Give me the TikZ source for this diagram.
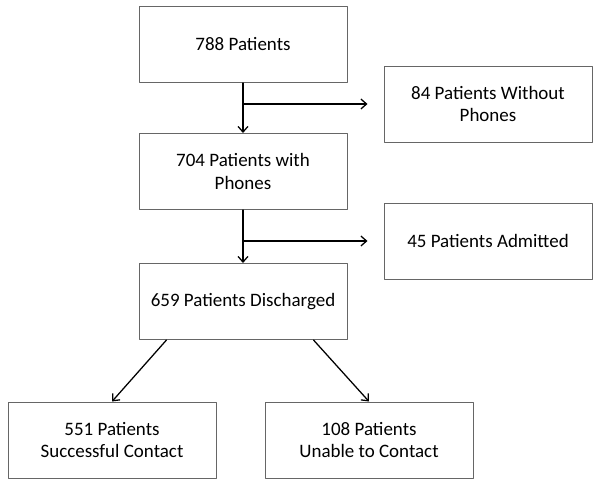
\documentclass[tikz,border=0pt]{standalone}
\usepackage{fontspec}
\setmainfont{Carlito}
\usepackage{tikz}
\usetikzlibrary{arrows.meta, calc, positioning}
\definecolor{boxgray}{rgb}{0.4, 0.4, 0.4}

\begin{document}
\begin{tikzpicture}[line cap=round, line join=round, >={Straight Barb[length=4pt,width=7pt]},
	flowbox/.style={draw=boxgray, line width=0.7pt, minimum width=5.2cm, minimum height=1.9cm,
		align=center, inner sep=2pt, font=\fontsize{13.5}{16}\selectfont},
	flowarrow/.style={->, line width=0.9pt, black}]
	\useasboundingbox (0,0) rectangle (15,12.125);
	% main column
	\node[flowbox] (b788) at (6.075,11.0125) {788 Patients};
	\node[flowbox] (b704) at (6.075,7.8375) {704 Patients with\\Phones};
	\node[flowbox] (b659) at (6.075,4.5875) {659 Patients Discharged};
	% side boxes
	\node[flowbox] (b84) at (12.2,9.525) {84 Patients Without\\Phones};
	\node[flowbox] (b45) at (12.2,6.1) {45 Patients Admitted};
	% bottom row
	\node[flowbox] (b551) at (2.8,1.125) {551 Patients\\Successful Contact};
	\node[flowbox] (b108) at (9.225,1.125) {108 Patients\\Unable to Contact};

	% split points on the vertical arrows
	\coordinate (split1) at (b788.south |- b84.west);
	\coordinate (split2) at (b704.south |- b45.west);

	\draw[flowarrow] (b788.south)--(b704.north);
	\draw[flowarrow, shorten >=0.4cm] (split1)--(split1 -| b84.west);
	\draw[flowarrow] (b704.south)--(b659.north);
	\draw[flowarrow, shorten >=0.4cm] (split2)--(split2 -| b45.west);
	\draw[flowarrow] ($(b659.south west)+(0.7,0)$)--(b551.north);
	\draw[flowarrow] ($(b659.south east)+(-0.85,0)$)--(b108.north);

\end{tikzpicture}
\end{document}
